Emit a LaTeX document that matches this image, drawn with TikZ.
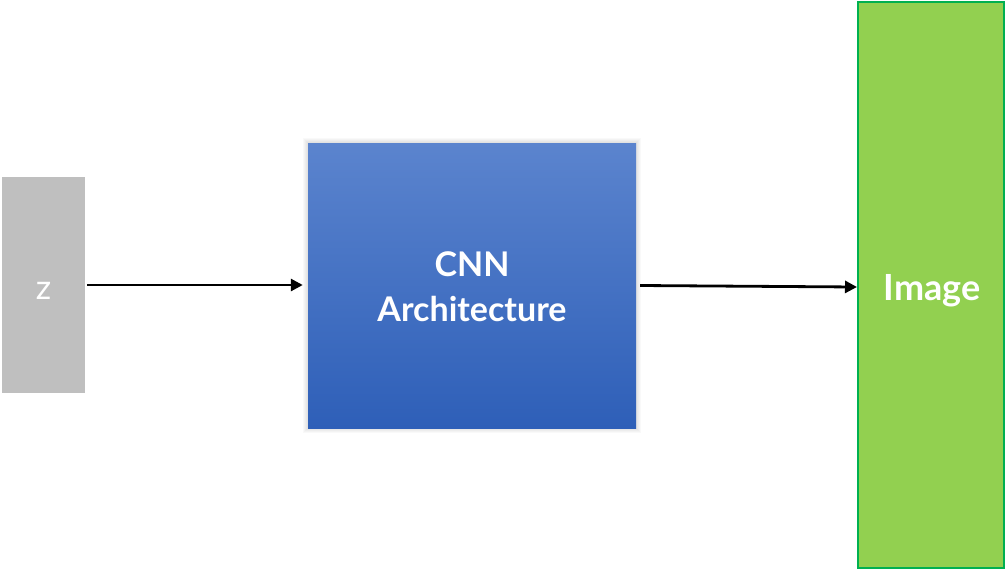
\documentclass[tikz,border=0pt]{standalone}
\usepackage{fontspec}
\setmainfont{Lato}
\usetikzlibrary{arrows.meta}
\definecolor{zgray}{HTML}{BFBFBF}
\definecolor{bluetop}{HTML}{5B84CE}
\definecolor{bluebot}{HTML}{2E5FB8}
\definecolor{imgfill}{HTML}{92D050}
\definecolor{imgline}{HTML}{00B050}
\tikzset{
  box/.style={rectangle, inner sep=0pt, text=white, align=center},
  arr/.style={draw=black, line width=2.8pt, -{Triangle[length=12pt,width=12pt]}},
}
\begin{document}
\begin{tikzpicture}[x=1pt,y=-1pt]
\useasboundingbox (0,0) rectangle (1008,571);
% soft shadow around the CNN box
\foreach \d in {5,4,3,2,1}{
  \fill[black,opacity=0.025] (308-\d,143-\d) rectangle (636+\d,428+\d);
}
\node[box, fill=zgray, minimum width=83pt, minimum height=216pt] (z) at (43.5,285) {};
\node[text=white, font=\fontsize{34}{36}\selectfont, inner sep=0pt, anchor=base] (zt) at (43.5,299) {z};
\node[box, top color=bluetop, bottom color=bluebot, minimum width=328pt, minimum height=285pt] (cnn) at (472,285.5) {};
\node[box, font=\bfseries\fontsize{34}{45}\selectfont] (cnnt) at (472,287) {CNN\\Architecture};
\node[box, fill=imgfill, draw=imgline, line width=2pt, minimum width=146pt, minimum height=566pt] (img) at (931,285) {};
\node[text=white, font=\bfseries\fontsize{36}{40}\selectfont, inner sep=0pt, anchor=base] (imgt) at (932,300) {Image};
\draw[arr] ([xshift=2pt]z.east) -- ([xshift=-5pt,yshift=0.5pt]cnn.west);
\draw[arr] ([xshift=4pt]cnn.east) -- ([yshift=-2pt]img.west);
\end{tikzpicture}
\end{document}
